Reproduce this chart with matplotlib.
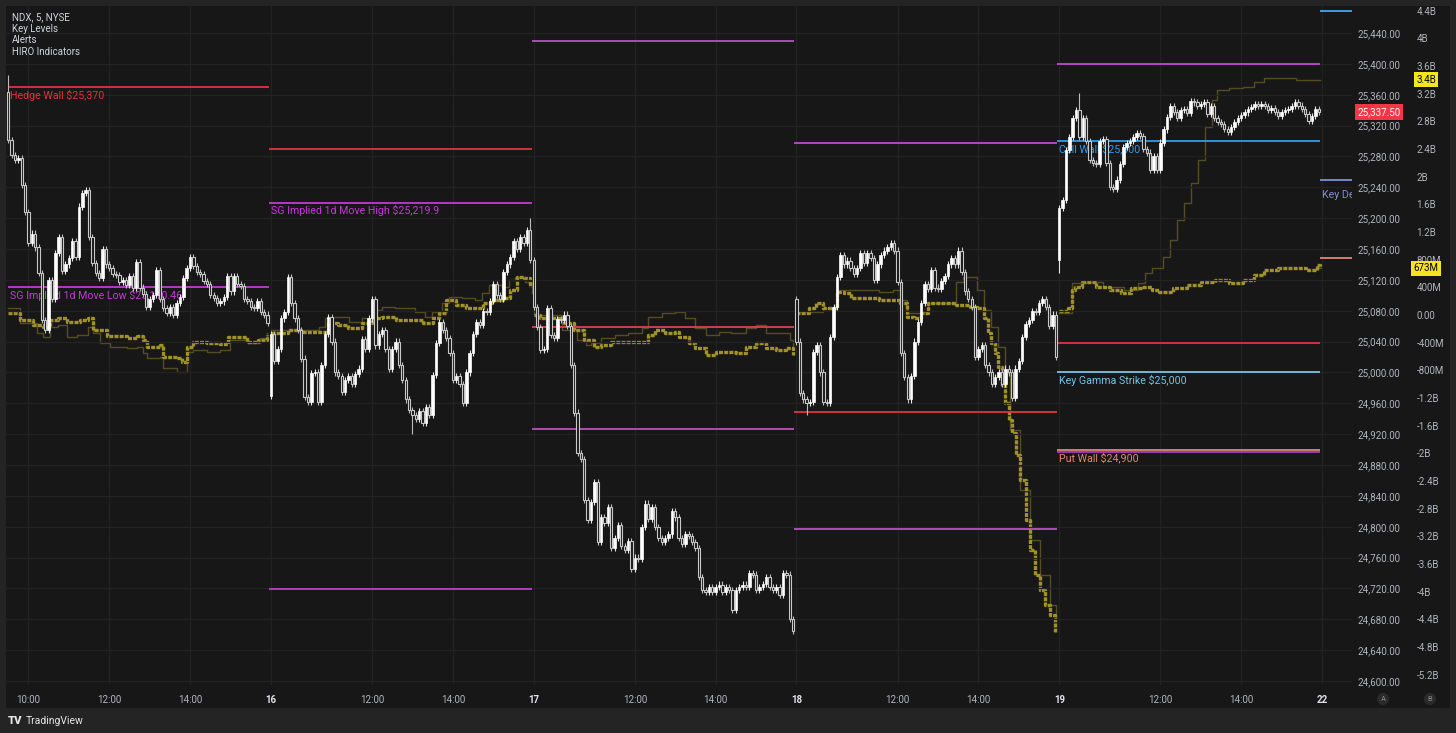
import matplotlib
matplotlib.use('Agg')
import matplotlib.pyplot as plt
import matplotlib.transforms as mtransforms
from matplotlib.patches import Rectangle
from matplotlib.ticker import FixedLocator, FuncFormatter
import numpy as np

plt.rcParams['font.family'] = ['Roboto', 'DejaVu Sans']

# ---- NDX 5 min candles, one list of closes per session (78 bars each) ----
day_names = ['15', '16', '17', '18', '19']
day_opens = [25363, 24970, 25146, 25095, 25146]
closes_15 = [25301, 25282, 25276, 25278, 25243, 25208, 25168, 25180, 25162, 25129,
             25068, 25055, 25120, 25095, 25155, 25175, 25132, 25140, 25148, 25170,
             25150, 25215, 25233, 25237, 25176, 25142, 25129, 25123, 25160, 25140,
             25135, 25128, 25126, 25117, 25120, 25113, 25125, 25110, 25143, 25110,
             25102, 25085, 25095, 25100, 25133, 25095, 25083, 25077, 25085, 25075,
             25090, 25098, 25122, 25135, 25149, 25138, 25130, 25128, 25118, 25115,
             25100, 25097, 25090, 25092, 25098, 25125, 25105, 25125, 25115, 25112,
             25095, 25093, 25085, 25083, 25093, 25078, 25075, 25064]
closes_16 = [25050, 25015, 25030, 25070, 25078, 25124, 25090, 25070, 25055, 25018,
             24968, 24962, 24999, 25000, 24962, 25010, 25050, 25072, 25040, 25000,
             24995, 24975, 24990, 24995, 24985, 24998, 25005, 25043, 25030, 25070,
             25095, 25035, 25050, 25055, 25030, 25005, 25030, 25040, 25010, 24990,
             24965, 24951, 24945, 24940, 24950, 24935, 24955, 24945, 24997, 25038,
             25065, 25055, 25045, 25025, 24990, 24995, 24985, 24960, 25000, 25025,
             25050, 25065, 25062, 25080, 25078, 25093, 25115, 25100, 25095, 25130,
             25140, 25150, 25170, 25160, 25175, 25168, 25185, 25146]
closes_17 = [25085, 25059, 25029, 25030, 25083, 25049, 25045, 25069, 25068, 25075,
             25060, 25010, 24948, 24896, 24888, 24835, 24809, 24832, 24858, 24780,
             24813, 24805, 24826, 24772, 24785, 24802, 24775, 24770, 24782, 24745,
             24760, 24758, 24800, 24830, 24810, 24825, 24800, 24785, 24780, 24785,
             24790, 24820, 24812, 24785, 24778, 24790, 24788, 24780, 24772, 24735,
             24718, 24715, 24722, 24715, 24722, 24725, 24715, 24722, 24718, 24692,
             24718, 24722, 24725, 24722, 24740, 24738, 24718, 24722, 24726, 24735,
             24722, 24718, 24722, 24712, 24740, 24738, 24680, 24665]
closes_18 = [25040, 24973, 24965, 24960, 24962, 25026, 25035, 25000, 24962, 24960,
             25046, 25085, 25124, 25152, 25140, 25145, 25135, 25128, 25135, 25155,
             25142, 25155, 25148, 25120, 25140, 25152, 25158, 25163, 25168, 25158,
             25117, 25025, 24994, 24965, 24995, 25040, 25065, 25090, 25115, 25108,
             25133, 25110, 25108, 25118, 25125, 25140, 25148, 25140, 25158, 25130,
             25105, 25095, 25085, 25020, 25030, 25035, 25010, 25000, 24985, 24994,
             25000, 24985, 25005, 25000, 24967, 25005, 25015, 25046, 25063, 25068,
             25080, 25078, 25090, 25095, 25085, 25060, 25075, 25020]
closes_19 = [25213, 25223, 25288, 25305, 25330, 25340, 25305, 25330, 25300, 25275,
             25272, 25270, 25300, 25303, 25272, 25240, 25238, 25250, 25270, 25292,
             25297, 25300, 25305, 25310, 25306, 25290, 25285, 25262, 25280, 25262,
             25298, 25315, 25331, 25345, 25338, 25330, 25340, 25342, 25336, 25352,
             25350, 25345, 25348, 25350, 25335, 25345, 25330, 25325, 25322, 25316,
             25312, 25318, 25325, 25330, 25334, 25337, 25342, 25344, 25348, 25345,
             25348, 25345, 25340, 25343, 25338, 25333, 25338, 25340, 25342, 25345,
             25350, 25346, 25342, 25335, 25326, 25332, 25342, 25337.5]
# long wicks that stand out (bar number, extreme price)
spike_bar = [0, 120, 155, 237, 312, 318]
spike_price = [25385, 24920, 25200, 24945, 25129, 25362]

# ---- HIRO (billions), bar number / value pairs ----
hiro_x = [0, 3.5, 7.4, 10.3, 12.4, 14.8, 17.5, 21.3, 23.7, 25.2, 29.3, 35.3, 38.2, 40, 41.2, 45, 46,
          50.1, 51.6, 53, 54.9, 59, 62.9, 65.3, 68.8, 70.9, 74.1, 76.8,
          78, 83, 87, 93, 95, 98, 101, 105, 108, 111, 115, 119, 123, 126, 128, 130, 133, 136, 138,
          141, 144, 147, 149, 151, 153, 155,
          156, 158, 165, 168, 171, 174, 176, 179, 184, 188, 190, 192, 195, 198, 199, 202, 204, 207,
          210, 214, 216, 219, 222, 225, 228, 231, 233,
          234, 237.7, 239.8, 241.9, 246.1, 248.2, 250.3, 254.4, 258.6, 261.8, 264.8, 266.8, 268.9,
          271, 273.1, 277.3, 281.4, 285.6, 287.7, 289.8, 290.8, 291.7, 292.9, 293.8, 295, 296, 297,
          298, 299.3, 300.3, 302, 303.3, 304.8, 306.3, 307.8, 309.2, 310.7,
          312, 314.6, 315.8, 316.7, 318.8, 323, 327, 330.3, 333.3, 336.5, 339.5, 341.6, 345.8,
          349.9, 354, 358.2, 362.4, 366.5, 369.8, 372.8, 376.9, 381, 385.2, 388.5, 389.5]
hiro_v = [0.03, -0.07, -0.14, -0.17, -0.07, -0.04, -0.10, -0.07, -0.04, -0.22, -0.30, -0.33, -0.30,
          -0.36, -0.46, -0.43, -0.61, -0.62, -0.68, -0.46, -0.39, -0.40, -0.42, -0.32, -0.32, -0.39,
          -0.36, -0.29,
          -0.26, -0.22, -0.25, -0.25, -0.12, -0.14, -0.19, -0.12, -0.04, -0.03, -0.07, -0.07, -0.12,
          -0.04, 0.03, 0.22, 0.14, 0.10, 0.10, 0.17, 0.22, 0.25, 0.36, 0.55, 0.53, 0.40,
          0, -0.04, -0.12, -0.22, -0.36, -0.46, -0.43, -0.39, -0.39, -0.39, -0.29, -0.22, -0.26,
          -0.25, -0.32, -0.40, -0.48, -0.58, -0.53, -0.53, -0.55, -0.46, -0.40, -0.48, -0.51, -0.48, -0.58,
          0.03, 0.10, 0.17, 0.10, 0.33, 0.32, 0.25, 0.25, 0.22, 0.22, 0.17, -0.03, -0.04, 0.03, 0.17,
          0.17, 0.14, 0.12, 0.10, -0.04, -0.26, -0.40, -0.55, -0.75, -1.01, -1.27, -1.52, -1.71, -2.02,
          -2.39, -2.96, -3.40, -3.76, -3.98, -4.19, -4.34, -4.58,
          0.06, 0.10, 0.36, 0.40, 0.48, 0.40, 0.36, 0.32, 0.39, 0.40, 0.36, 0.33, 0.39, 0.43, 0.48,
          0.51, 0.46, 0.51, 0.58, 0.65, 0.68, 0.68, 0.65, 0.72, 0.673]
hiro2_x = [0, 3.5, 8.5, 10.3, 12.4, 14.8, 17.5, 20.4, 23.7, 25.2, 27.2, 30.2, 35.3, 38.2, 40, 41.2,
           45, 46, 50.1, 51.9, 53, 54.9, 59, 62.9, 65.8, 68.8, 70.9, 74.7, 76.8,
           78, 83.4, 92.3, 94.1, 96.1, 101.1, 105, 108, 111, 114.8, 120.7, 123.7, 125.8, 128.8,
           130.8, 134.7, 138.6, 140.6, 142.7, 146.6, 148.6, 150.5, 153.5, 155.5,
           156, 164.5, 168.7, 171.5, 173, 176, 180, 184, 188, 190, 194, 198, 201, 204, 207, 211,
           214.5, 219, 222, 225, 230, 232, 233,
           234, 242, 246, 258.5, 262.6, 264.7, 266.8, 271, 273, 281.3, 283.4, 287.6, 289.7, 291.7,
           293.8, 296, 297.3, 300.3, 303.3, 306.3, 309.2, 311,
           312, 315.8, 320, 325, 331.2, 335.4, 337.4, 339.5, 342.8, 344.8, 346.9, 349, 351.1, 353.2,
           355.2, 357.3, 358.8, 362.4, 366.5, 369.8, 372.8, 376.9, 382.2, 387.3, 389.5]
hiro2_v = [0.10, -0.12, -0.26, -0.32, -0.17, -0.14, -0.32, -0.29, -0.17, -0.26, -0.40, -0.46, -0.48,
           -0.46, -0.55, -0.62, -0.61, -0.77, -0.82, -0.82, -0.53, -0.51, -0.53, -0.51, -0.36, -0.36,
           -0.40, -0.33, -0.26,
           -0.22, -0.22, -0.17, -0.04, -0.03, -0.10, -0.04, 0.07, 0.12, 0.10, 0.04, -0.03, 0.04, 0.17,
           0.26, 0.25, 0.22, 0.32, 0.43, 0.40, 0.51, 0.55, 0.48, 0.32,
           0, -0.22, -0.36, -0.43, -0.40, -0.33, -0.29, -0.26, -0.19, -0.03, 0.03, 0.04, -0.04, -0.19,
           -0.29, -0.25, -0.26, -0.19, -0.14, -0.26, -0.26, -0.36, -0.46,
           0.04, 0.10, 0.36, 0.33, 0.36, 0.22, 0.03, 0.04, 0.17, 0.48, 0.55, 0.36, 0.07, -0.17, -0.46,
           -0.84, -1.66, -2.53, -3.25, -3.76, -4.19, -4.41,
           0.03, 0.46, 0.48, 0.40, 0.36, 0.46, 0.61, 0.68, 0.84, 1.08, 1.37, 1.62, 1.91, 2.24, 2.72,
           3.11, 3.25, 3.28, 3.30, 3.37, 3.43, 3.43, 3.40, 3.40, 3.40]

# ---- key levels: session (5 = after the 22 divider), price, colour, label ----
lvl_day = [0, 0, 1, 1, 1, 2, 2, 2, 3, 3, 3, 4, 4, 4, 4, 4, 4, 5, 5, 5]
lvl_price = [25370, 25110.46, 25290, 25219.9, 24719, 25430, 25059, 24927, 25297, 24949, 24797,
             25400, 25300, 25038, 25000, 24900, 24897, 25468, 25250, 25148]
lvl_color = ['#e2323c', '#c23bd4', '#e2323c', '#c23bd4', '#c23bd4', '#b94fc9', '#e2404a', '#c24cc6',
             '#b94fc9', '#e2323c', '#c24cc6', '#b94fc9', '#2e9bef', '#e2323c', '#73c4e6', '#e0896e',
             '#a53fc0', '#4ba3e3', '#7f8fd6', '#e0896e']
lvl_label = ['Hedge Wall $25,370', 'SG Implied 1d Move Low $25,110.46', '',
             'SG Implied 1d Move High $25,219.9', '', '', '', '', '', '', '',
             '', 'Call Wall $25,300', '', 'Key Gamma Strike $25,000', 'Put Wall $24,900', '',
             '', 'Key Delta', '']

price_ticks = np.arange(24600, 25441, 40)
hiro_ticks = np.round(np.arange(-5.2, 4.41, 0.4), 1)
last_price = 25337.5

# ---------------------------------------------------------------------------
W, H = 1456, 733
BG = '#171717'
fig = plt.figure(figsize=(W / 100, H / 100), dpi=100)
fig.patch.set_facecolor('#242424')
fig.add_artist(Rectangle((6 / W, 25 / H), 1444 / W, 702 / H, transform=fig.transFigure,
                         facecolor=BG, edgecolor='none', zorder=-5))

L, R, T, B = 6, 1352, 6, 685
ax_h = fig.add_axes([L / W, 1 - B / H, (R - L) / W, (B - T) / H])
ax_h.set_facecolor(BG)
ax_p = ax_h.twinx()

nb = 78
ax_h.set_xlim(-0.65, 398.9)
ax_p.set_ylim(24594.8, 25475.0)
ax_h.set_ylim(-5.349, 4.467)

for a in (ax_h, ax_p):
    for s in a.spines.values():
        s.set_visible(False)

# grids
ax_p.yaxis.set_major_locator(FixedLocator(price_ticks))
ax_p.yaxis.set_major_formatter(FuncFormatter(lambda v, p: f'{v:,.2f}'))
ax_p.grid(axis='y', color='#222222', lw=0.9)
ax_p.tick_params(axis='y', length=0, pad=4.3, labelsize=7, labelcolor='#b2b5be')

ax_h.yaxis.tick_right()
ax_h.yaxis.set_major_locator(FixedLocator(hiro_ticks))


def hiro_fmt(v, pos):
    v = round(v, 1)
    if abs(v) < 1e-9:
        return '0.00'
    if abs(v) >= 1:
        return f'{v:g}B'
    return f'{int(round(v * 1000))}M'


ax_h.yaxis.set_major_formatter(FuncFormatter(hiro_fmt))
ax_h.tick_params(axis='y', length=0, pad=46.5, labelsize=7, labelcolor='#b2b5be')

# time axis
xt, xl, bold = [], [], []
for d in range(5):
    if d == 0:
        xt.append(6); xl.append('10:00'); bold.append(False)
    else:
        xt.append(d * nb); xl.append(day_names[d]); bold.append(True)
    xt += [d * nb + 30, d * nb + 54]
    xl += ['12:00', '14:00']
    bold += [False, False]
xt.append(5 * nb); xl.append('22'); bold.append(True)
ax_h.set_xticks(xt)
ax_h.set_xticklabels(xl)
ax_h.tick_params(axis='x', length=0, pad=7, labelsize=7, labelcolor='#b2b5be')
for lab, b in zip(ax_h.get_xticklabels(), bold):
    if b:
        lab.set_fontweight('bold')
        lab.set_color('#e0e3eb')
ax_h.grid(axis='x', color='#222222', lw=0.9)

# HIRO lines, one segment per session
hx, hv = np.array(hiro_x), np.array(hiro_v)
h2x, h2v = np.array(hiro2_x), np.array(hiro2_v)
for d in range(5):
    m2 = (h2x >= d * nb - 0.5) & (h2x < (d + 1) * nb - 0.4)
    ax_h.step(h2x[m2], h2v[m2], where='post', color='#554d22', lw=1.0, zorder=2)
    m = (hx >= d * nb - 0.5) & (hx < (d + 1) * nb - 0.4)
    ax_h.step(hx[m], hv[m], where='post', color='#a09229', lw=2.4,
              ls=(0, (1.2, 0.35)), zorder=3)

# key levels
for d, p, col, lab in zip(lvl_day, lvl_price, lvl_color, lvl_label):
    x0 = d * nb - 0.6
    x1 = (d + 1) * nb - 0.6 if d < 5 else 400
    if d == 0:
        x0 = 0
    ax_p.hlines(p, x0, x1, color=col, lw=1.3, zorder=2)
    if lab:
        dy = -1.8 if d < 5 else -7.5
        tr = mtransforms.offset_copy(ax_p.transData, fig=fig, x=1.5, y=dy, units='points')
        ax_p.text(x0, p, lab, transform=tr, ha='left', va='top', fontsize=7.7, color=col,
                  zorder=2, clip_on=True)

# candles
all_closes = [closes_15, closes_16, closes_17, closes_18, closes_19]
o_list, c_list = [], []
for op, cl in zip(day_opens, all_closes):
    o_list += [op] + cl[:-1]
    c_list += cl
o = np.array(o_list, dtype=float)
c = np.array(c_list, dtype=float)
x = np.arange(len(c))
hi = np.maximum(o, c) + 4
lo = np.minimum(o, c) - 4
for b_, sp in zip(spike_bar, spike_price):
    if sp > max(o[b_], c[b_]):
        hi[b_] = sp
    else:
        lo[b_] = sp
up = c >= o
ax_p.vlines(x[up], lo[up], hi[up], color='#e8e8e8', lw=0.8, zorder=4)
ax_p.vlines(x[~up], lo[~up], hi[~up], color='#bcbcbc', lw=0.8, zorder=4)
body = np.maximum(np.abs(c - o), 1.2)
ax_p.bar(x[up], body[up], bottom=np.minimum(o, c)[up], width=0.74, color='#ffffff',
         edgecolor='#ffffff', lw=0.5, zorder=5)
ax_p.bar(x[~up], body[~up], bottom=np.minimum(o, c)[~up], width=0.68, facecolor=BG,
         edgecolor='#c8c8c8', lw=0.8, zorder=5)

# axis value tags
tp = mtransforms.blended_transform_factory(ax_p.transAxes, ax_p.transData)
th = mtransforms.blended_transform_factory(ax_h.transAxes, ax_h.transData)
ax_p.text(1 + 27 / (R - L), last_price, f'{last_price:,.2f}', transform=tp, ha='center',
          va='center', fontsize=7, color='white', clip_on=False, zorder=10,
          bbox=dict(boxstyle='square,pad=0.3', fc='#f23645', ec='none'))
for v, lab in [(hiro2_v[-1], '3.4B'), (hiro_v[-1], '673M')]:
    ax_h.text(1 + 74 / (R - L), v, lab, transform=th, ha='center', va='center', fontsize=7,
              color='black', clip_on=False, zorder=10,
              bbox=dict(boxstyle='square,pad=0.25', fc='#f5e51f', ec='none'))

# legend block top left
for i, s in enumerate(['NDX, 5, NYSE', 'Key Levels', 'Alerts', 'HIRO Indicators']):
    fig.text(12 / W, 1 - (17 + i * 11.7) / H, s, fontsize=7, color='#d1d4dc', va='center')

# scale buttons and footer
for xx, s in [(1383, 'A'), (1430, 'B')]:
    fig.text(xx / W, 1 - 699 / H, s, fontsize=5.5, color='#8a8a8a', ha='center', va='center',
             bbox=dict(boxstyle='circle,pad=0.4', fc='#2a2a2a', ec='none'))
fig.text(8 / W, 1 - 721 / H, 'TV', fontsize=8, fontweight='heavy', color='#e6e6e6', va='center')
fig.text(26 / W, 1 - 721 / H, 'TradingView', fontsize=7.5, color='#e6e6e6', va='center')

fig.savefig('out.png', dpi=100, facecolor=fig.get_facecolor())
